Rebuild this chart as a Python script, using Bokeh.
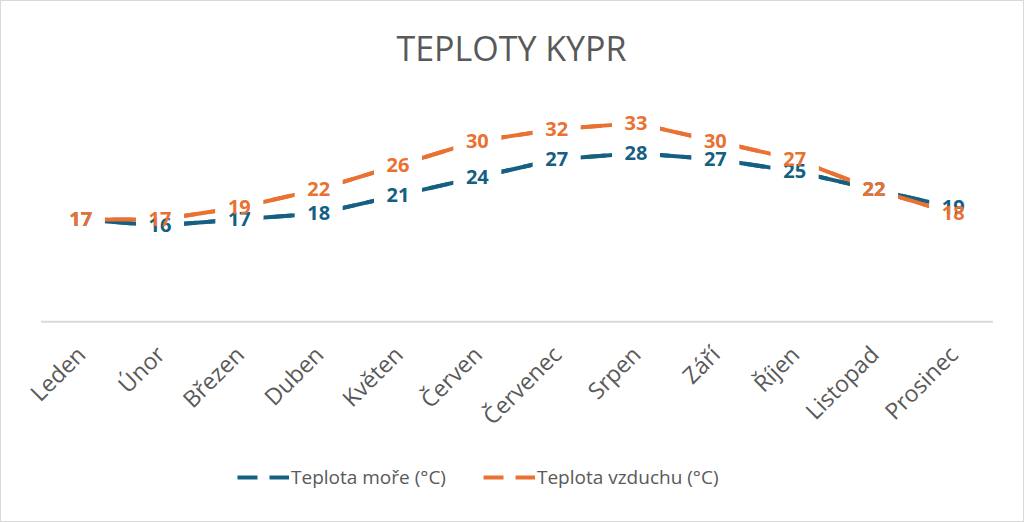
from bokeh.plotting import figure
from bokeh.models import ColumnDataSource, FactorRange, Range1d, Legend, LegendItem, Label
from bokeh.core.properties import value
from bokeh.embed import file_html
from bokeh.resources import INLINE
import math

months = ["Leden", "Únor", "Březen", "Duben", "Květen", "Červen",
          "Červenec", "Srpen", "Září", "Říjen", "Listopad", "Prosinec"]
sea = [17, 16, 17, 18, 21, 24, 27, 28, 27, 25, 22, 19]
air = [17, 17, 19, 22, 26, 30, 32, 33, 30, 27, 22, 18]
series_names = ["Teplota moře (°C)", "Teplota vzduchu (°C)"]
colors = ["#156082", "#E97132"]
title_text = "TEPLOTY KYPR"

src = ColumnDataSource(dict(m=months, sea=sea, air=air,
                            sea_t=[str(v) for v in sea],
                            air_t=[str(v) for v in air]))

W, H = 1024, 522
# the frame fills the whole chart; the category axis sits at y = 0
p = figure(width=W, height=H,
           x_range=FactorRange(factors=months, range_padding=0.41,
                               range_padding_units="absolute"),
           y_range=Range1d(-33.5, 53.2), output_backend="svg", toolbar_location=None,
           min_border_left=7, min_border_right=0, min_border_top=0,
           min_border_bottom=0, outline_line_color=None,
           background_fill_color="white", border_fill_color="white",
           styles={"border": "1px solid #D9D9D9"})

p.add_layout(Label(x=503, y=476, x_units="screen", y_units="screen", text=title_text,
                   text_align="center", text_baseline="middle", text_font="Open Sans",
                   text_font_size="34px", text_color="#595959"))

p.yaxis.visible = False
p.grid.visible = False
ax = p.xaxis[0]
ax.fixed_location = 0
ax.axis_line_color = None
ax.major_tick_line_color = None
ax.minor_tick_line_color = None
ax.major_label_orientation = math.pi / 4
ax.major_label_text_font = "Open Sans"
ax.major_label_text_font_size = "23px"
ax.major_label_text_color = "#595959"
ax.major_label_standoff = 22

# category axis baseline, across the category bands
p.segment(x0=[(months[0], -0.5)], y0=[0], x1=[(months[-1], 0.5)], y1=[0],
          line_color="#D9D9D9", line_width=2)

# dashed series lines (these give the legend its dashed glyphs)
dashed = [p.line("m", s, source=src, line_color=c, line_width=4, line_dash="20 12")
          for s, c in zip(("sea", "air"), colors)]
# the visible line between two labels reads as one long dash in the reference
p.line("m", "sea", source=src, line_color=colors[0], line_width=4)
p.line("m", "air", source=src, line_color=colors[1], line_width=4)

# white label backgrounds (hide the line around every data label)
for ycol in ("sea", "air"):
    p.rect(x="m", y=ycol, width=48, height=22, width_units="screen",
           height_units="screen", source=src, fill_color="white", line_color=None)

# data labels
for col, c in (("sea_t", colors[0]), ("air_t", colors[1])):
    p.text(x="m", y=col[:-2], text=col, source=src, text_align="center",
           text_baseline="middle", text_font=value("Open Sans"),
           text_font_size="20px", text_font_style="bold", text_color=c)

legend = Legend(items=[LegendItem(label=n, renderers=[r]) for n, r in zip(series_names, dashed)],
                orientation="horizontal", location=(229, 33),
                label_text_font="Open Sans", label_text_font_size="19px",
                label_text_color="#595959", glyph_width=52, glyph_height=20,
                label_standoff=2, spacing=37, padding=0, margin=0,
                border_line_color=None, background_fill_alpha=0)
p.add_layout(legend, "center")

open("out.html", "w").write(file_html(p, INLINE))
